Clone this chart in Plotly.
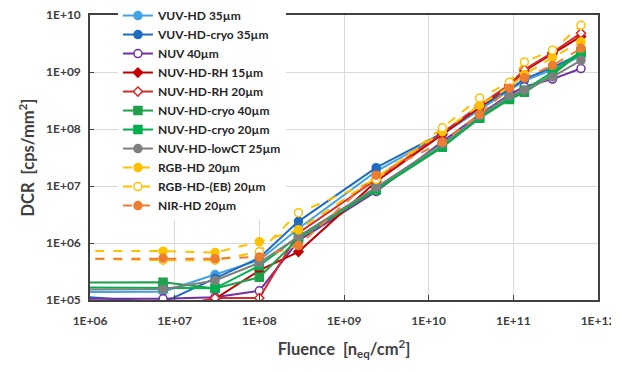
import plotly.graph_objects as go

fluence = [1e5, 7.3e6, 3e7, 1e8, 2.9e8, 2.4e9, 1.45e10, 4e10, 9e10, 1.35e11, 2.9e11, 6.3e11]

names = ["VUV-HD 35µm", "VUV-HD-cryo 35µm", "NUV 40µm", "NUV-HD-RH 15µm", "NUV-HD-RH 20µm",
         "NUV-HD-cryo 40µm", "NUV-HD-cryo 20µm", "NUV-HD-lowCT 25µm", "RGB-HD 20µm",
         "RGB-HD-(EB) 20µm", "NIR-HD 20µm"]

vuv_hd_35 = [1.35e5, 1.4e5, 2.8e5, 5e5, 1.8e6, 1.8e7, 8e7, 2.2e8, 4.8e8, 7e8, 1.1e9, 1.9e9]
vuv_hd_cryo_35 = [1.45e5, 9e4, 2.4e5, 5.5e5, 2.4e6, 2.1e7, 8.5e7, 2.4e8, 5e8, 7.5e8, 1.2e9, 2.1e9]
nuv_40 = [1.05e5, 1.05e5, 1.12e5, 1.45e5, 1.1e6, 8e6, 6e7, 1.8e8, 4e8, 5.5e8, 7.5e8, 1.15e9]
nuv_hd_rh_15 = [7e4, 7e4, 1.05e5, 3.3e5, 7e5, 1.2e7, 8e7, 2.4e8, 5.8e8, 1.05e9, 2.1e9, 4.2e9]
nuv_hd_rh_20 = [7e4, 7e4, 1.08e5, 1.08e5, 1.5e6, 1.3e7, 8.5e7, 2.6e8, 6e8, 1.1e9, 2.2e9, 4.8e9]
nuv_hd_cryo_40 = [2e5, 2.05e5, 1.6e5, 2.5e5, 1.2e6, 8.5e6, 4.8e7, 1.55e8, 3.3e8, 4.4e8, 9e8, 2.2e9]
nuv_hd_cryo_20 = [1.7e5, 1.6e5, 1.6e5, 4e5, 1.3e6, 9e6, 5e7, 1.6e8, 3.5e8, 4.8e8, 1e9, 2.3e9]
nuv_hd_lowct_25 = [1.5e5, 1.55e5, 2.2e5, 4.5e5, 1.3e6, 9.5e6, 5.5e7, 1.7e8, 3.8e8, 4.8e8, 8.2e8, 1.6e9]
rgb_hd_20 = [7.3e5, 7.2e5, 6.8e5, 1.05e6, 1.7e6, 1.4e7, 9e7, 2.6e8, 5.5e8, 9e8, 1.8e9, 3.4e9]
rgb_hd_eb_20 = [5.6e5, 5e5, 5e5, 7e5, 3.4e6, 1.3e7, 1.05e8, 3.5e8, 6.6e8, 1.5e9, 2.4e9, 6.6e9]
nir_hd_20 = [5.3e5, 5.4e5, 5.3e5, 5.7e5, 9e5, 1.55e7, 5.9e7, 1.8e8, 5.2e8, 7.9e8, 1.3e9, 2.6e9]

series = [vuv_hd_35, vuv_hd_cryo_35, nuv_40, nuv_hd_rh_15, nuv_hd_rh_20, nuv_hd_cryo_40,
          nuv_hd_cryo_20, nuv_hd_lowct_25, rgb_hd_20, rgb_hd_eb_20, nir_hd_20]

colors = ["#3FA3E6", "#1F6BBF", "#7030A0", "#C00000", "#D42A2A", "#1FA04A",
          "#00B050", "#7F7F7F", "#FFC000", "#FFC000", "#ED7D31"]
symbols = ["circle", "circle", "circle", "diamond", "diamond", "square",
           "square", "circle", "circle", "circle", "circle"]
open_marker = [False, False, True, False, True, False, False, False, False, True, False]
dashes = ["solid"] * 8 + ["dash"] * 3

y_ticks = [1e5, 1e6, 1e7, 1e8, 1e9, 1e10]
y_labels = ["1E+05", "1E+06", "1E+07", "1E+08", "1E+09", "1E+10"]
x_ticks = [1e6, 1e7, 1e8, 1e9, 1e10, 1e11, 1e12]
x_labels = ["1E+06", "1E+07", "1E+08", "1E+09", "1E+10", "1E+11", "1E+12"]

fig = go.Figure()
for name, ys, c, s, o, d in zip(names, series, colors, symbols, open_marker, dashes):
    fig.add_trace(go.Scatter(
        x=fluence, y=ys, name=name, mode="lines+markers",
        line=dict(color=c, width=2, dash=d),
        marker=dict(symbol=s, size=7 if s == "diamond" else 8,
                    color="white" if o else c,
                    line=dict(color=c, width=1.5)),
    ))

font = "Lato, 'Open Sans', sans-serif"
# the page body adds an 8px offset, so the figure is slightly smaller
fig.update_layout(
    width=611, height=355,
    margin=dict(l=82, r=21, t=7, b=63, autoexpand=False),
    paper_bgcolor="white", plot_bgcolor="white",
    font=dict(family=font, size=12, color="#404040", weight="bold"),
    showlegend=True,
    legend=dict(x=0.055, xanchor="left", y=1.049, yanchor="top",
                bgcolor="white", borderwidth=0, maxheight=400,
                font=dict(family=font, size=12, color="#262626", weight="bold"),
                itemwidth=30, tracegroupgap=0),
)
fig.update_xaxes(
    type="log", range=[6, 12], tickvals=x_ticks, ticktext=x_labels,
    showgrid=True, gridcolor="#D9D9D9", gridwidth=1,
    showline=True, linecolor="#404040", linewidth=1.5, mirror=True,
    ticks="inside", ticklen=5, tickcolor="#404040", ticklabelstandoff=9,
    ticklabeloverflow="allow",
    tickfont=dict(size=12, color="#404040"),
    title=dict(text="Fluence  [n<sub>eq</sub>/cm<sup>2</sup>]",
               font=dict(size=16.5, color="#404040"), standoff=16),
    zeroline=False,
)
fig.update_yaxes(
    type="log", range=[5, 10], tickvals=y_ticks, ticktext=y_labels,
    showgrid=True, gridcolor="#D9D9D9", gridwidth=1,
    showline=True, linecolor="#404040", linewidth=1.5, mirror=True,
    ticks="inside", ticklen=4, tickcolor="#404040", ticklabelstandoff=5,
    ticklabeloverflow="allow",
    tickfont=dict(size=12, color="#404040"),
    title=dict(text="DCR  [cps/mm<sup>2</sup>]",
               font=dict(size=16.5, color="#404040"), standoff=7),
    zeroline=False,
)

fig.write_html("out.html")
